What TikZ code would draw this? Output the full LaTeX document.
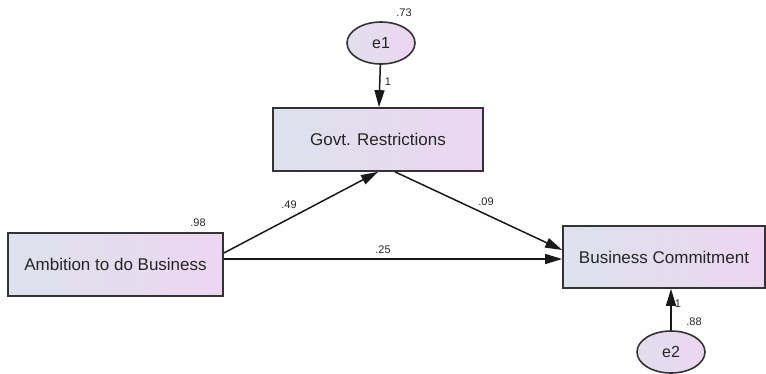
\documentclass[tikz,border=0pt]{standalone}
\usepackage{fontspec}
\setmainfont{Liberation Sans}
\usetikzlibrary{shapes.geometric,arrows.meta}
\definecolor{boxleft}{HTML}{DDE2EC}
\definecolor{boxright}{HTML}{ECD6F1}
\definecolor{edge}{HTML}{333333}
\begin{document}
\begin{tikzpicture}[x=1pt,y=-1pt,
  varbox/.style={draw=edge,line width=1.7pt,left color=boxleft,right color=boxright,
    inner sep=0pt,font=\fontsize{17}{19}\selectfont,text=black!85},
  errnode/.style={ellipse,draw=edge,line width=1.6pt,left color=boxleft!70!boxright,right color=boxright,
    minimum width=68pt,minimum height=42pt,inner sep=0pt,font=\fontsize{16}{18}\selectfont,text=black!85},
  lab/.style={font=\fontsize{11}{12}\selectfont,text=black!85,inner sep=0pt},
  path/.style={draw=black!90,line width=1.5pt,-{Triangle[length=17pt,width=10pt]}}]
\useasboundingbox (0,0) rectangle (766,373);
\node[varbox,minimum width=210pt,minimum height=63pt] (govt) at (378,139.5) {Govt. Restrictions};
\node[varbox,minimum width=215pt,minimum height=63pt] (amb) at (115.5,264.5) {Ambition to do Business};
\node[varbox,minimum width=202pt,minimum height=62pt] (bus) at (664,257) {Business Commitment};
\node[errnode] (e1) at (381,43) {e1};
\node[errnode] (e2) at (671,352) {e2};
\coordinate (ambup) at ([yshift=11.5pt]amb.east);
\coordinate (govtin) at (govt.south);
\coordinate (govtout) at ([xshift=17pt]govt.south);
\coordinate (busin) at ([yshift=7pt]bus.west);
\draw[path] (e1) -- (govt);
\draw[path] (e2) -- (e2 |- bus.south);
\draw[path] (ambup) -- (govtin);
\draw[path] (govtout) -- (busin);
\draw[path] (amb.east |- 0,259) -- (bus.west |- 0,259);
\node[lab] (l73) at (404,13) {.73};
\node[lab] (l1a) at (388,82) {1};
\node[lab] (l98) at (198,223) {.98};
\node[lab] (l49) at (289,205) {.49};
\node[lab] (l09) at (486,202) {.09};
\node[lab] (l25) at (383,250) {.25};
\node[lab] (l1b) at (678,304) {1};
\node[lab] (l88) at (694,322) {.88};
\end{tikzpicture}
\end{document}
